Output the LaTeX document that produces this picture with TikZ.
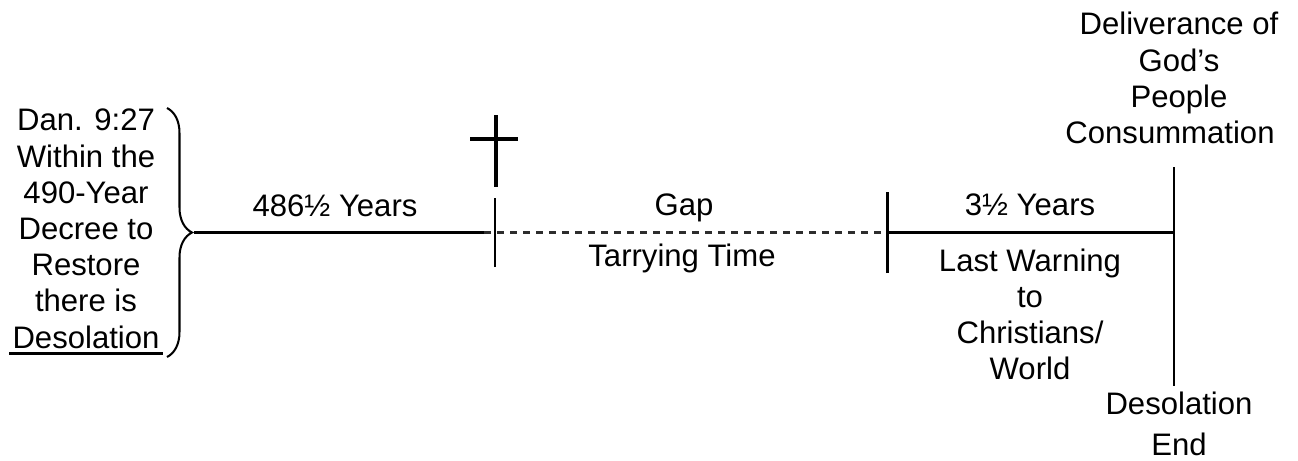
\documentclass[tikz,border=0pt]{standalone}
\usepackage{fontspec}
\setmainfont{Liberation Sans}
\usepackage{tikz}
\usetikzlibrary{positioning,decorations.pathreplacing}
\usepackage{xcolor}
\definecolor{InkK}  {RGB}{0,  0,  0}
\definecolor{GapG}  {RGB}{45, 45, 45}
\newcommand{\undl}[1]{\setbox0\hbox{#1}\rlap{\kern-2pt\rule[-3.8pt]{\dimexpr\wd0+4pt\relax}{1.6pt}}\box0}

\begin{document}
\begin{tikzpicture}[x=0.02cm,y=-0.02cm,
    lbl/.style={inner sep=0pt,font=\fontsize{17.7}{20.6}\selectfont,align=center},
    thinl/.style={InkK,line width=1.15pt},
    tickl/.style={InkK,line width=1.7pt}]
  \useasboundingbox (0,0) rectangle (1298,460);
  % time line
  \coordinate (start) at (194,232.5);
  \coordinate (dsh) at (484,232.5);
  \coordinate (t1) at (495,232.5);
  \coordinate (t2) at (887,232.5);
  \coordinate (fin) at (1174,232.5);
  \draw[thinl] (start)--(dsh);
  \draw[GapG,line width=1.3pt,dash pattern=on 4.2pt off 3.2pt] (dsh)--(t2);
  \draw[thinl] (t2)--(fin);
  \draw[tickl] ([yshift=-34.5*0.02cm]t1)--([yshift=34.5*0.02cm]t1);
  \draw[tickl] ([yshift=-40.5*0.02cm]t2)--([yshift=40.5*0.02cm]t2);
  \draw[thinl] ([yshift=65.5*0.02cm]fin)--([yshift=-153.5*0.02cm]fin);
  % cross
  \draw[InkK,line width=2.3pt] (496,115)--(496,187) (470,139)--(518,139);
  % brace
  \draw[thinl,decorate,decoration={brace,amplitude=0.5cm}] (167,108)--(167,357);

  \node[lbl] (dan) at (86,232) {Dan. 9:27\\Within the\\490-Year\\Decree to\\Restore\\there is\\\undl{Desolation}};
  \node[lbl,anchor=base] (yrs) at (335,216) {486½ Years};
  \node[lbl,anchor=base] (gap) at (684,215) {Gap};
  \node[lbl,anchor=base] (tarry) at (682,266) {Tarrying Time};
  \node[lbl,anchor=base] (half) at (1030,215) {3½ Years};
  \node[lbl] (warn) at (1030,314.5) {Last Warning\\to\\Christians/\\World};
  \node[lbl] (deliv) at (1179,63) {Deliverance of\\God’s\\People};
  \node[lbl,anchor=base] (cons) at (1170,143) {Consummation};
  \node[lbl,anchor=base] (desol) at (1179,414) {Desolation};
  \node[lbl,anchor=base] (fend) at (1179,455) {End};
\end{tikzpicture}
\end{document}
